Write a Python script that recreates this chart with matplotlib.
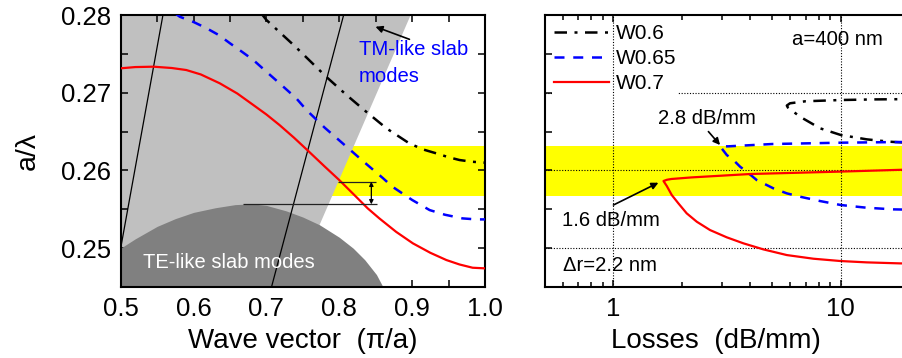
import numpy as np
import matplotlib
matplotlib.use("Agg")
import matplotlib.pyplot as plt
from matplotlib.ticker import (MultipleLocator, LogLocator, NullFormatter,
                               FixedLocator, FixedFormatter, FormatStrFormatter)

plt.rcParams['font.family'] = ['Liberation Sans', 'DejaVu Sans']

# ---- left panel: dispersion (wave vector in pi/a, a/lambda) ----
k_w07 = [0.5, 0.52, 0.545, 0.57, 0.59, 0.61, 0.636, 0.66, 0.682, 0.70, 0.718, 0.738, 0.757,
         0.78, 0.80, 0.82, 0.839, 0.855, 0.878, 0.901, 0.925, 0.947, 0.965, 0.983, 1.0]
f_w07 = [0.27314, 0.27330, 0.27335, 0.27318, 0.27292, 0.27235, 0.27121, 0.26990, 0.26842,
         0.26720, 0.26584, 0.26420, 0.26254, 0.26050, 0.25876, 0.25690, 0.25512, 0.25383,
         0.25210, 0.25062, 0.24940, 0.24847, 0.24790, 0.24748, 0.24740]
k_w065 = [0.575, 0.581, 0.60, 0.618, 0.635, 0.650, 0.666, 0.682, 0.70, 0.718, 0.741, 0.755,
          0.78, 0.81, 0.835, 0.86, 0.873, 0.90, 0.924, 0.945, 0.969, 0.988, 1.0]
f_w065 = [0.2802, 0.27978, 0.27910, 0.27829, 0.27740, 0.27636, 0.27530, 0.27421, 0.2727,
          0.27121, 0.26928, 0.26777, 0.2655, 0.26305, 0.2610, 0.2590, 0.2579, 0.2562,
          0.2549, 0.2543, 0.25383, 0.2537, 0.2537]
k_w06 = [0.693, 0.70, 0.74, 0.782, 0.81, 0.837, 0.865, 0.896, 0.915, 0.933, 0.95, 0.965, 0.982, 1.0]
f_w06 = [0.2802, 0.27936, 0.2759, 0.27206, 0.2697, 0.26755, 0.2654, 0.26349, 0.2627, 0.2622,
         0.2617, 0.26134, 0.26112, 0.2610]

# TE-like slab mode region (upper edge)
k_te = [0.5, 0.52, 0.55, 0.575, 0.6, 0.63, 0.657, 0.68, 0.70, 0.727, 0.75, 0.773, 0.80,
        0.819, 0.835, 0.851, 0.86]
f_te = [0.25, 0.2512, 0.2528, 0.2538, 0.2546, 0.2552, 0.2556, 0.2557, 0.2555, 0.2548, 0.2540,
        0.2530, 0.2514, 0.2500, 0.2485, 0.2466, 0.245]
# TM-like slab mode region (light grey polygon)
k_tm = [0.5, 0.5, 0.898, 0.773, 0.773]
f_tm = [0.245, 0.28, 0.28, 0.253, 0.245]
# thin light lines
k_light1, f_light1 = [0.5, 0.558], [0.25, 0.28]
k_light2, f_light2 = [0.707, 0.806], [0.245, 0.28]

band = (0.2567, 0.2632)

# ---- right panel: losses (dB/mm, a/lambda) ----
loss_w07 = [25, 18.2, 13.0, 10, 7.58, 5.79, 4.567, 3.73, 3.153, 2.66, 2.326, 2.10, 1.931,
            1.806, 1.717, 1.66, 1.72, 1.8, 2.2, 4.0, 10, 25]
fr_w07 = [0.2480, 0.24804, 0.24817, 0.24834, 0.24864, 0.24911, 0.24984, 0.25062, 0.25139,
          0.25233, 0.2534, 0.25448, 0.25576, 0.25683, 0.25799, 0.25864, 0.2588, 0.2589,
          0.2591, 0.25954, 0.25985, 0.2602]
loss_w065 = [25, 17.05, 13.0, 10, 8.11, 6.62, 5.79, 5.05, 4.27, 3.86, 3.607, 3.37, 3.153,
             3.0, 2.95, 3.2, 5.0, 10, 25]
fr_w065 = [0.2549, 0.25499, 0.2552, 0.25555, 0.25606, 0.25662, 0.25705, 0.2577, 0.25876,
           0.25983, 0.26048, 0.26134, 0.26198, 0.2628, 0.2631, 0.2631, 0.2634, 0.26357, 0.2637]
loss_w06 = [25, 16.5, 13.0, 10, 8.11, 6.62, 6.1, 5.85, 5.79, 5.98, 7, 10, 14, 25]
fr_w06 = [0.2634, 0.26369, 0.2640, 0.26456, 0.26542, 0.26691, 0.2677, 0.2681, 0.26835,
          0.26864, 0.2689, 0.26906, 0.26914, 0.2692]

fig = plt.figure(figsize=(9.02, 3.58), dpi=100)
ax1 = fig.add_axes([0.1338, 0.1983, 0.4039, 0.7598])
ax2 = fig.add_axes([0.6042, 0.1983, 0.4038, 0.7598])

tick_fs = 18.5
lab_fs = 20
txt_fs = 14.6

# left panel
ax1.axhspan(band[0], band[1], color='#ffff00', lw=0, zorder=0)
ax1.fill(k_tm, f_tm, color='#c0c0c0', lw=0, zorder=1)
ax1.fill_between(k_te, 0.24, f_te, color='#808080', lw=0, zorder=2)
ax1.plot(k_light1, f_light1, color='black', lw=0.9, zorder=3)
ax1.plot(k_light2, f_light2, color='black', lw=0.9, zorder=3)
ax1.plot(k_w06, f_w06, color='black', lw=1.8, dashes=(5, 3, 1.2, 3), zorder=4)
ax1.plot(k_w065, f_w065, color='#0000ff', lw=1.8, dashes=(4, 3.5), zorder=4)
ax1.plot(k_w07, f_w07, color='#ff0000', lw=1.6, zorder=4)

ax1.hlines(0.25855, 0.798, 0.851, color='#222222', lw=0.9, zorder=5)
ax1.hlines(0.25564, 0.668, 0.852, color='#222222', lw=0.9, zorder=5)
ax1.annotate('', xy=(0.844, 0.25564), xytext=(0.844, 0.25855),
             arrowprops=dict(arrowstyle='<|-|>', color='black', lw=0.9,
                             mutation_scale=6, shrinkA=0, shrinkB=0), zorder=6)
ax1.annotate('', xy=(0.8497, 0.27849), xytext=(0.8963, 0.27687),
             arrowprops=dict(arrowstyle='-|>', color='black', lw=1.2,
                             mutation_scale=10, shrinkA=0, shrinkB=0), zorder=6)
ax1.text(0.827, 0.2755, 'TM-like slab', color='#0000ff', fontsize=txt_fs, va='center', ha='left', zorder=6)
ax1.text(0.827, 0.2721, 'modes', color='#0000ff', fontsize=txt_fs, va='center', ha='left', zorder=6)
ax1.text(0.5305, 0.2481, 'TE-like slab modes', color='white', fontsize=14.5, va='center', ha='left', zorder=6)

ax1.set_xlim(0.5, 1.0)
ax1.set_ylim(0.245, 0.28)
ax1.xaxis.set_major_locator(MultipleLocator(0.1))
ax1.xaxis.set_minor_locator(MultipleLocator(0.05))
ax1.yaxis.set_major_locator(MultipleLocator(0.01))
ax1.yaxis.set_minor_locator(MultipleLocator(0.005))
ax1.xaxis.set_major_formatter(FormatStrFormatter('%.1f'))
ax1.yaxis.set_major_formatter(FormatStrFormatter('%.2f'))
ax1.set_xlabel('Wave vector  (\u03c0/a)', fontsize=lab_fs)
ax1.set_ylabel('a/\u03bb', fontsize=20.5)
ax1.xaxis.set_label_coords(0.5, -0.15)
ax1.yaxis.set_label_coords(-0.22, 0.5)

# right panel
ax2.axhspan(band[0], band[1], color='#ffff00', lw=0, zorder=0)
for yv in [0.25, 0.26, 0.27]:
    ax2.axhline(yv, color='black', lw=0.8, ls=(0, (1, 1.5)), zorder=1)
for xv in [1, 10]:
    ax2.axvline(xv, color='black', lw=0.8, ls=(0, (1, 1.5)), zorder=7)
ax2.plot(loss_w06, fr_w06, color='black', lw=1.8, dashes=(5, 3, 1.2, 3), label='W0.6', zorder=4)
ax2.plot(loss_w065, fr_w065, color='#0000ff', lw=1.8, dashes=(4, 3.5), label='W0.65', zorder=4)
ax2.plot(loss_w07, fr_w07, color='#ff0000', lw=1.6, label='W0.7', zorder=4)

ax2.annotate('', xy=(2.945, 0.26327), xytext=(2.617, 0.2650),
             arrowprops=dict(arrowstyle='-|>', color='black', lw=1.2,
                             mutation_scale=10, shrinkA=0, shrinkB=0), zorder=6)
ax2.annotate('', xy=(1.577, 0.25842), xytext=(1.0, 0.25555),
             arrowprops=dict(arrowstyle='-|>', color='black', lw=1.2,
                             mutation_scale=10, shrinkA=0, shrinkB=0), zorder=6)
ax2.text(1.573, 0.26674, '2.8 dB/mm', fontsize=txt_fs, va='center', ha='left', zorder=6)
ax2.text(0.593, 0.25362, '1.6 dB/mm', fontsize=txt_fs, va='center', ha='left', zorder=6)
ax2.text(6.09, 0.27691, 'a=400 nm', fontsize=txt_fs, va='center', ha='left', zorder=6)
ax2.text(0.601, 0.24783, '\u0394r=2.2 nm', fontsize=txt_fs, va='center', ha='left', zorder=6)

leg = ax2.legend(loc='upper left', fontsize=15, handlelength=2.6, handletextpad=0.35,
                 labelspacing=0.28, borderaxespad=0.35, borderpad=0.1,
                 frameon=True, framealpha=1, facecolor='white', edgecolor='none', fancybox=False)
leg.set_zorder(5)

ax2.set_xscale('log')
ax2.set_xlim(0.5, 20)
ax2.set_ylim(0.245, 0.28)
ax2.xaxis.set_major_locator(FixedLocator([1, 10]))
ax2.xaxis.set_major_formatter(FixedFormatter(['1', '10']))
ax2.xaxis.set_minor_locator(LogLocator(base=10, subs=np.arange(2, 10)))
ax2.xaxis.set_minor_formatter(NullFormatter())
ax2.yaxis.set_major_locator(MultipleLocator(0.01))
ax2.yaxis.set_minor_locator(MultipleLocator(0.005))
ax2.yaxis.set_major_formatter(NullFormatter())
ax2.set_xlabel('Losses  (dB/mm)', fontsize=lab_fs)
ax2.xaxis.set_label_coords(0.4695, -0.15)

for ax in (ax1, ax2):
    for s in ax.spines.values():
        s.set_linewidth(1.5)
    ax.tick_params(which='both', direction='in', top=True, right=True, width=1.1,
                   labelsize=tick_fs)
    ax.tick_params(which='major', length=5, pad=7)
    ax.tick_params(which='minor', length=5)
ax2.tick_params(which='minor', axis='x', length=3.5)

fig.savefig('out.png', dpi=100)
